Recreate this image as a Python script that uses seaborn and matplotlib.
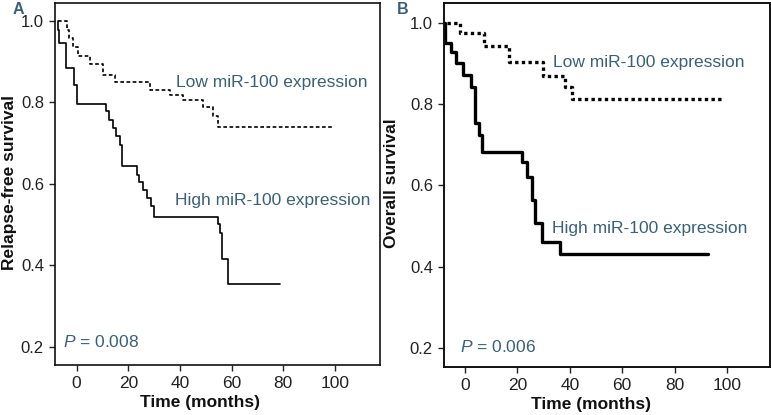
import matplotlib
matplotlib.use("Agg")
import matplotlib.pyplot as plt
import seaborn as sns
import pandas as pd

# ---------------- data ----------------
# Panel A: relapse-free survival (time of each step, survival after step)
a_high_time = [-7.3, -7.1, -6.7, -4.3, -0.9, 0.0, 11.2, 12.5, 14.2, 15.1, 16.8, 17.7,
               23.3, 24.3, 25.6, 27.1, 28.8, 30.1, 54.9, 55.5, 56.4, 58.5, 78.8]
a_high_surv = [1.0, 0.977, 0.945, 0.883, 0.842, 0.796, 0.778, 0.756, 0.736, 0.716, 0.695, 0.642,
               0.621, 0.605, 0.585, 0.564, 0.544, 0.517, 0.501, 0.478, 0.415, 0.353, 0.353]
a_low_time = [-7.1, -3.9, -2.8, -1.3, 0.6, 5.2, 10.3, 14.8, 28.4, 36.2, 41.1, 49.1, 53.0, 54.9, 98.8]
a_low_surv = [1.0, 0.977, 0.957, 0.935, 0.914, 0.893, 0.866, 0.848, 0.830, 0.818, 0.805, 0.789,
              0.765, 0.740, 0.740]

# Panel B: overall survival
b_high_time = [-7.9, -7.6, -5.5, -3.4, -0.6, 2.2, 3.8, 5.3, 6.6, 21.6, 23.5, 25.6, 26.9, 29.3, 36.3, 92.6]
b_high_surv = [1.0, 0.951, 0.927, 0.900, 0.870, 0.842, 0.754, 0.724, 0.683, 0.657, 0.621, 0.564,
               0.507, 0.461, 0.432, 0.432]
b_low_time = [-7.0, -2.0, 7.4, 16.8, 29.7, 38.2, 40.7, 98.6]
b_low_surv = [1.0, 0.974, 0.943, 0.904, 0.868, 0.842, 0.812, 0.812]

x_ticks = [0, 20, 40, 60, 80, 100]
y_ticks = [0.2, 0.4, 0.6, 0.8, 1.0]
y_labels = ["Relapse-free survival", "Overall survival"]
panel_letters = ["A", "B"]
p_values = ["0.008", "0.006"]
low_label = "Low miR-100 expression"
high_label = "High miR-100 expression"

# ---------------- style ----------------
sns.set_style("ticks")
plt.rcParams["font.family"] = ["Liberation Sans", "DejaVu Sans"]
plt.rcParams["mathtext.fontset"] = "custom"
plt.rcParams["mathtext.it"] = "Liberation Sans:italic"
plt.rcParams["mathtext.rm"] = "Liberation Sans"

TEXT_C = "#3a6178"
TICK_C = "#222222"

fig = plt.figure(figsize=(7.71, 4.15), dpi=100)
W, H = 771, 415


def add_axes(l, r, t, b):
    return fig.add_axes([l / W, 1 - b / H, (r - l) / W, (b - t) / H])


axA = add_axes(55, 380, 3, 365)
axB = add_axes(444, 770, 3.5, 367)

panels = [
    dict(ax=axA, high=(a_high_time, a_high_surv), low=(a_low_time, a_low_surv),
         xlim=(-8.4, 117.5), ylim=(0.155, 1.043), lw=1.2, lowdash=(0, (2.2, 1.5)),
         low_xy=(38.5, 0.849), high_xy=(38.1, 0.559), p_xy=(-5.2, 0.212),
         xlab_x=0.447, ylab_x=-0.118, letter_x=13, spine=1.2),
    dict(ax=axB, high=(b_high_time, b_high_surv), low=(b_low_time, b_low_surv),
         xlim=(-8.0, 116.4), ylim=(0.153, 1.047), lw=2.4, lowdash=(0, (1, 1)),
         low_xy=(33.7, 0.902), high_xy=(33.1, 0.494), p_xy=(-1.9, 0.203),
         xlab_x=0.452, ylab_x=-0.137, letter_x=397, spine=1.4),
]

for i, p in enumerate(panels):
    ax = p["ax"]
    dfh = pd.DataFrame({"t": p["high"][0], "s": p["high"][1]})
    dfl = pd.DataFrame({"t": p["low"][0], "s": p["low"][1]})
    sns.lineplot(data=dfh, x="t", y="s", ax=ax, color="black", lw=p["lw"],
                 drawstyle="steps-post", estimator=None, sort=False)
    sns.lineplot(data=dfl, x="t", y="s", ax=ax, color="black", lw=p["lw"],
                 drawstyle="steps-post", estimator=None, sort=False,
                 linestyle=p["lowdash"])
    ax.set_xlim(*p["xlim"])
    ax.set_ylim(*p["ylim"])
    ax.set_xticks(x_ticks)
    ax.set_xticklabels([str(v) for v in x_ticks])
    ax.set_yticks(y_ticks)
    ax.set_yticklabels([f"{v:.1f}" for v in y_ticks])
    ax.tick_params(axis="both", colors=TICK_C, length=4.5, width=1.0, pad=3.5,
                   direction="out")
    ax.tick_params(axis="x", labelsize=12.5)
    ax.tick_params(axis="y", labelsize=12)
    for sp in ax.spines.values():
        sp.set_visible(True)
        sp.set_linewidth(p["spine"])
        sp.set_color("#111111")
    ax.set_xlabel("Time (months)", fontsize=12.5, fontweight="bold", color="#111111")
    ax.set_ylabel(y_labels[i], fontsize=12.5, fontweight="bold", color="#111111")
    ax.xaxis.set_label_coords(p["xlab_x"], -0.083)
    ax.yaxis.set_label_coords(p["ylab_x"], 0.505)

    ax.text(*p["low_xy"], low_label, fontsize=12.5, color=TEXT_C, va="center", ha="left")
    ax.text(*p["high_xy"], high_label, fontsize=12.5, color=TEXT_C, va="center", ha="left")
    ax.text(*p["p_xy"], r"$\it{P}$ = " + p_values[i], fontsize=12.5, color=TEXT_C,
            va="center", ha="left")

    fig.text(p["letter_x"] / W, 1 - 10 / H, panel_letters[i], fontsize=11.5,
             fontweight="bold", color=TEXT_C, va="center", ha="left")

fig.savefig("out.png", dpi=100)
